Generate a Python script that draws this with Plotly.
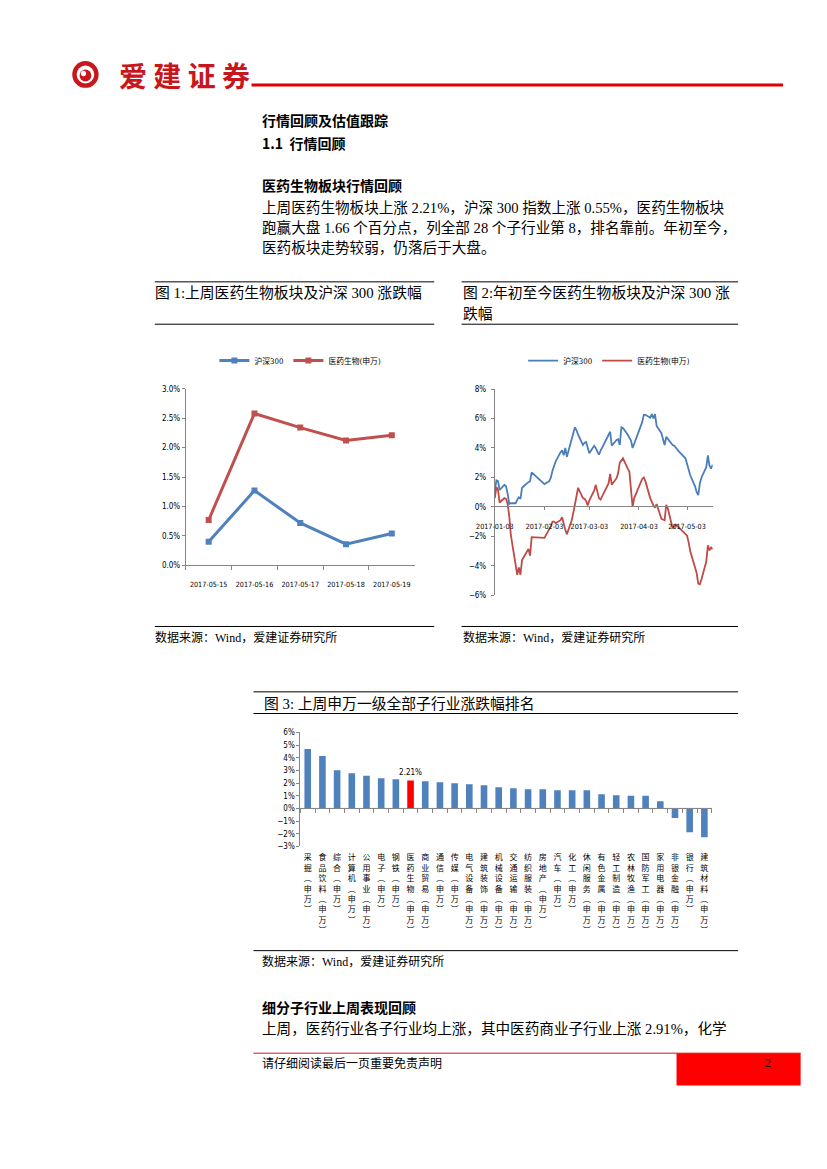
import plotly.graph_objects as go

W, H = 827, 1169


def px(x):
    return x / W


def py(y):
    return 1 - y / H


# ---------------- data ----------------
week_dates = ["2017-05-15", "2017-05-16", "2017-05-17", "2017-05-18", "2017-05-19"]
hs300_week = [0.40, 1.27, 0.72, 0.36, 0.54]
med_week = [0.77, 2.58, 2.34, 2.12, 2.21]

ytd_dates = [
    "2017-01-03", "2017-01-04", "2017-01-05", "2017-01-06", "2017-01-09", "2017-01-10", "2017-01-11", "2017-01-12", "2017-01-13",
    "2017-01-16", "2017-01-17", "2017-01-18", "2017-01-19", "2017-01-20", "2017-01-23", "2017-01-24", "2017-01-25", "2017-01-26",
    "2017-02-03", "2017-02-06", "2017-02-07", "2017-02-08", "2017-02-09", "2017-02-10", "2017-02-13", "2017-02-14", "2017-02-15",
    "2017-02-16", "2017-02-17", "2017-02-20", "2017-02-21", "2017-02-22", "2017-02-23", "2017-02-24", "2017-02-27", "2017-02-28",
    "2017-03-01", "2017-03-02", "2017-03-03", "2017-03-06", "2017-03-07", "2017-03-08", "2017-03-09", "2017-03-10",
    "2017-03-13", "2017-03-14", "2017-03-15", "2017-03-16", "2017-03-17", "2017-03-20", "2017-03-21", "2017-03-22", "2017-03-23",
    "2017-03-24", "2017-03-27", "2017-03-28", "2017-03-29", "2017-03-30", "2017-03-31",
    "2017-04-05", "2017-04-06", "2017-04-07", "2017-04-10", "2017-04-11", "2017-04-12", "2017-04-13", "2017-04-14",
    "2017-04-17", "2017-04-18", "2017-04-19", "2017-04-20", "2017-04-21", "2017-04-24", "2017-04-25", "2017-04-26", "2017-04-27",
    "2017-04-28", "2017-05-02", "2017-05-03", "2017-05-04", "2017-05-05", "2017-05-08", "2017-05-09", "2017-05-10", "2017-05-11",
    "2017-05-12", "2017-05-15", "2017-05-16", "2017-05-17", "2017-05-18", "2017-05-19",
]
hs300_ytd = [
    1.1, 1.8, 1.75, 1.15, 1.5, 1.4, 0.9, 0.2, 0.25, 0.25, 0.5, 0.65, 0.55, 1.3, 1.6, 1.7, 1.75, 2.35,
    1.55, 1.75, 2.0, 2.45, 2.8, 3.1, 3.7, 3.85, 3.5, 4.0, 3.4, 4.5, 4.95, 5.4, 5.2, 4.9, 4.2, 4.35,
    4.4, 3.95, 3.65, 4.15, 4.0, 3.75, 3.55, 3.8, 4.45, 4.65, 4.9, 5.1, 4.15, 4.55, 4.6, 4.2, 5.4, 5.35,
    4.9, 4.7, 4.5, 4.0, 4.3,
    5.75, 6.25, 6.25, 6.05, 6.3, 6.0, 6.3, 5.5, 5.0, 4.6, 4.2, 4.75, 4.6, 4.2, 4.15, 4.0, 3.9, 3.75,
    3.3, 2.95, 2.55, 2.15, 1.4, 1.0, 0.8, 1.6, 2.0, 2.7, 3.5, 2.8, 2.6, 2.85,
]
med_ytd = [
    0.6, 1.35, 1.15, 0.3, 0.6, 0.55, 0.2, -0.6, -1.9, -4.0, -4.6, -4.1, -4.6, -3.6, -3.0, -2.85, -3.3, -2.05,
    -2.1, -1.55, -1.3, -1.0, -1.0, -1.1, -0.9, -0.7, -1.2, -1.55, -1.85, -0.9, -0.4, 0.2, 0.95, 1.3, 0.6, 0.55,
    0.4, 0.1, 0.45, 1.1, 1.5, 1.0, 0.6, 0.5, 1.1, 1.3, 1.6, 2.25, 1.5, 1.95, 2.3, 3.0, 3.2, 3.3,
    2.6, 2.4, 1.2, 0.0, 0.6,
    1.9, 2.0, 1.75, 0.6, 0.3, 0.1, -0.05, 0.2, -0.8, -0.85, -0.9, 0.15, -0.1, -1.45, -1.35, -1.2, -1.3, -1.4,
    -1.85, -1.95, -2.4, -3.0, -4.1, -4.5, -5.2, -5.25, -4.9, -3.7, -2.6, -2.95, -2.75, -2.85,
]
ytd_ticks = ["2017-01-03", "2017-02-03", "2017-03-03", "2017-04-03", "2017-05-03"]

industries = [
    "采掘(申万)", "食品饮料(申万)", "综合(申万)", "计算机(申万)", "公用事业(申万)", "电子(申万)", "钢铁(申万)",
    "医药生物(申万)", "商业贸易(申万)", "通信(申万)", "传媒(申万)", "电气设备(申万)", "建筑装饰(申万)",
    "机械设备(申万)", "交通运输(申万)", "纺织服装(申万)", "房地产(申万)", "汽车(申万)", "化工(申万)",
    "休闲服务(申万)", "有色金属(申万)", "轻工制造(申万)", "农林牧渔(申万)", "国防军工(申万)", "家用电器(申万)",
    "非银金融(申万)", "银行(申万)", "建筑材料(申万)",
]
industry_chg = [
    4.68, 4.13, 3.02, 2.78, 2.57, 2.38, 2.30, 2.21, 2.14, 2.06, 1.98, 1.90, 1.83, 1.67,
    1.59, 1.51, 1.51, 1.43, 1.43, 1.43, 1.11, 1.03, 1.00, 1.00, 0.56, -0.75, -1.88, -2.28,
]
highlight = "医药生物(申万)"

# ---------------- styles ----------------
BLUE = "#4F81BD"
RED = "#C0504D"
AXIS = "#868686"
SERIF = "Liberation Serif, Noto Sans CJK SC"
SANS = "Noto Sans CJK SC"
NARROW = "Liberation Sans Narrow, DejaVu Sans Condensed, Liberation Sans, Noto Sans CJK SC"

fig = go.Figure()

# chart 1
fig.add_trace(go.Scatter(x=week_dates, y=hs300_week, name="沪深300", mode="lines+markers",
                         line=dict(color=BLUE, width=3), marker=dict(symbol="square", size=6, color=BLUE),
                         xaxis="x", yaxis="y", legend="legend"))
fig.add_trace(go.Scatter(x=week_dates, y=med_week, name="医药生物(申万)", mode="lines+markers",
                         line=dict(color=RED, width=3), marker=dict(symbol="square", size=6, color=RED),
                         xaxis="x", yaxis="y", legend="legend"))

# chart 2
fig.add_trace(go.Scatter(x=ytd_dates, y=hs300_ytd, name="沪深300", mode="lines",
                         line=dict(color="#4A7EBB", width=1.8), xaxis="x2", yaxis="y2", legend="legend2"))
fig.add_trace(go.Scatter(x=ytd_dates, y=med_ytd, name="医药生物(申万)", mode="lines",
                         line=dict(color="#BE4B48", width=1.8), xaxis="x2", yaxis="y2", legend="legend2"))

# chart 3
bar_colors = ["#FF0000" if c == highlight else BLUE for c in industries]
bar_text = [f"{v:.2f}%" if c == highlight else "" for c, v in zip(industries, industry_chg)]
fig.add_trace(go.Bar(x=industries, y=industry_chg, marker=dict(color=bar_colors, line=dict(width=0)),
                     text=bar_text, textposition="outside", cliponaxis=False, constraintext="none",
                     textfont=dict(family=NARROW, size=8, color="black"),
                     xaxis="x3", yaxis="y3", showlegend=False))
n_ind = len(industries)
# helper trace carrying the zero-line axis with category boundary ticks
fig.add_trace(go.Scatter(x=[-0.5, n_ind - 0.5], y=[0, 0], mode="lines", line=dict(color=AXIS, width=1),
                         xaxis="x4", yaxis="y3", showlegend=False, hoverinfo="skip"))


def vertical(label):
    label = label.replace("(", "︵").replace(")", "︶")
    return "<br>".join(list(label))


tickfont = dict(family=NARROW, size=8, color="black")
legfont = dict(family=NARROW, size=7.8, color="black")

fig.update_layout(
    width=W, height=H, margin=dict(l=0, r=0, t=0, b=0), autosize=False,
    paper_bgcolor="white", plot_bgcolor="rgba(0,0,0,0)", bargap=0.55,
    xaxis=dict(domain=[px(170.7), px(405)], anchor="y", type="category", range=[-0.5, 4.5],
               tickson="boundaries", ticks="outside", ticklen=4, tickcolor=AXIS, tickangle=0,
               showline=True, linecolor=AXIS, showgrid=False, tickfont=dict(family=NARROW, size=7.2, color="black"),
               ticklabelstandoff=12),
    yaxis=dict(domain=[py(565.7), py(387.7)], anchor="x", range=[0, 3.0], dtick=0.5, tickformat=".1f",
               ticksuffix="%", ticks="outside", ticklen=3, tickcolor=AXIS, showline=True, linecolor=AXIS,
               showgrid=False, zeroline=False, tickfont=tickfont),
    xaxis2=dict(domain=[px(487), px(710)], anchor="free", position=py(506), type="date",
                range=["2017-01-03", "2017-05-19"], tickvals=ytd_ticks, ticktext=ytd_ticks, tickangle=0,
                ticks="outside", ticklen=3, tickcolor=AXIS, showline=True, linecolor=AXIS, showgrid=False,
                tickfont=dict(family=NARROW, size=7.2, color="black"), ticklabelstandoff=10),
    yaxis2=dict(domain=[py(596), py(388)], anchor="x2", range=[-6, 8], dtick=2, ticksuffix="%",
                ticks="outside", ticklen=3, tickcolor=AXIS, showline=True, linecolor=AXIS,
                showgrid=False, zeroline=False, tickfont=tickfont, ticklabelstandoff=3),
    xaxis3=dict(domain=[px(288), px(709)], anchor="y3", type="category", range=[-0.5, n_ind - 0.5],
                tickvals=industries, ticktext=[vertical(c) for c in industries], ticks="", tickangle=0,
                showline=False, showgrid=False, tickfont=dict(family=SANS, size=8, color="black"),
                ticklabelstandoff=5),
    xaxis4=dict(domain=[px(288), px(709)], anchor="free", position=py(810.7), overlaying="x3",
                range=[-0.5, n_ind - 0.5], tickvals=[i - 0.5 for i in range(n_ind + 1)],
                showticklabels=False, ticks="outside", ticklen=4, tickcolor=AXIS, showline=True,
                linecolor=AXIS, showgrid=False, zeroline=False),
    yaxis3=dict(domain=[py(849), py(734)], anchor="x3", range=[-3, 6], dtick=1, ticksuffix="%",
                ticks="outside", ticklen=3, tickcolor=AXIS, showline=True, linecolor=AXIS,
                showgrid=False, zeroline=False, tickfont=tickfont),
    legend=dict(orientation="h", x=px(200), y=py(359.3), xanchor="left", yanchor="middle",
                font=legfont, bgcolor="rgba(0,0,0,0)", itemwidth=30, tracegroupgap=0),
    legend2=dict(orientation="h", x=px(516), y=py(359.3), xanchor="left", yanchor="middle",
                 font=legfont, bgcolor="rgba(0,0,0,0)", itemwidth=30, tracegroupgap=0),
)

# ---------------- page text ----------------
annotations = []


def txt(x, y, s, size=14, family=SERIF, color="black", bold=False, anchor="left"):
    if bold:
        s = f"<b>{s}</b>"
    annotations.append(dict(x=px(x), y=py(y), xref="paper", yref="paper", text=s, showarrow=False,
                            xanchor=anchor, yanchor="middle", font=dict(family=family, size=size, color=color)))


txt(100, 71.5, "爱 建 证 券", size=28, family=SANS, color="#C8161D", bold=True)
txt(247, 116.7, "行情回顾及估值跟踪", size=14, family=SANS, bold=True)
txt(247, 140, "1.1  行情回顾", size=14, family=SANS, bold=True)
txt(247, 182, "医药生物板块行情回顾", size=14, family=SANS, bold=True)
txt(247, 205, "上周医药生物板块上涨 2.21%，沪深 300 指数上涨 0.55%，医药生物板块", size=14.6)
txt(247, 225, "跑赢大盘 1.66 个百分点，列全部 28 个子行业第 8，排名靠前。年初至今，", size=14.6)
txt(247, 245.7, "医药板块走势较弱，仍落后于大盘。", size=14.6)

txt(137, 290.7, "图 1:上周医药生物板块及沪深 300 涨跌幅", size=14.8)
txt(452, 290.7, "图 2:年初至今医药生物板块及沪深 300 涨", size=14.8)
txt(452, 312.7, "跌幅", size=14.8)
txt(137, 638.3, "数据来源：Wind，爱建证券研究所", size=12)
txt(452, 638.3, "数据来源：Wind，爱建证券研究所", size=12)

txt(249, 705, "图 3: 上周申万一级全部子行业涨跌幅排名", size=14.8)
txt(247, 965, "数据来源：Wind，爱建证券研究所", size=12)

txt(247, 1010.5, "细分子行业上周表现回顾", size=14, family=SANS, bold=True)
txt(247, 1033, "上周，医药行业各子行业均上涨，其中医药商业子行业上涨 2.91%，化学", size=14.6)
txt(247, 1067, "请仔细阅读最后一页重要免责声明", size=12, family=SANS)
txt(767, 1067, "2", size=12, family=SERIF, anchor="center")

fig.update_layout(annotations=annotations)

# ---------------- page rules / decorations ----------------
shapes = []


def hline(x0, x1, y, color="black", width=1):
    shapes.append(dict(type="line", xref="paper", yref="paper", x0=px(x0), x1=px(x1), y0=py(y), y1=py(y),
                       line=dict(color=color, width=width)))


def circle(cx, cy, r, color):
    shapes.append(dict(type="circle", xref="paper", yref="paper", x0=px(cx - r), x1=px(cx + r),
                       y0=py(cy + r), y1=py(cy - r), fillcolor=color, line=dict(width=0)))


# logo
circle(68, 71, 13.5, "#C8161D")
circle(68, 71, 9, "white")
circle(68, 72, 6, "#C8161D")
circle(66, 70, 2.7, "white")
hline(238, 782, 81.7, color="#E00000", width=3)

hline(139, 425, 280)
hline(139, 425, 322.7)
hline(453, 736, 280)
hline(453, 736, 322.7)
hline(139, 425, 627.3)
hline(453, 736, 627.3)
hline(240, 736, 693, color="#555555", width=1.5)
hline(240, 736, 715)
hline(240, 736, 954)
hline(240, 800, 1057.5, color="#E06666", width=1.5)
shapes.append(dict(type="rect", xref="paper", yref="paper", x0=px(673), x1=px(800), y0=py(1090), y1=py(1057.5),
                   fillcolor="#FF0000", line=dict(width=0)))

fig.update_layout(shapes=shapes)

fig.write_html("out.html", config={"displayModeBar": False},
               post_script="document.body.style.margin='0px';document.body.style.overflow='hidden';")
